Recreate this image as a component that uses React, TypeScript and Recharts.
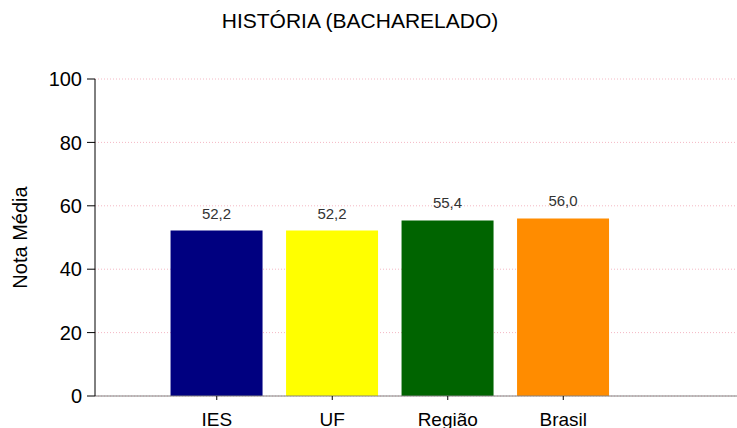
import { BarChart, Bar, XAxis, YAxis, CartesianGrid, Cell, LabelList, Label } from 'recharts'

const categories = ['IES', 'UF', 'Região', 'Brasil']
const notas = [52.2, 52.2, 55.4, 56.0]
const barColors = ['#000080', '#ffff00', '#006400', '#ff8c00']
const yTicks = [0, 20, 40, 60, 80, 100]

const data = categories.map((name, i) => ({ name, nota: notas[i] }))

const FONT = '"Liberation Sans", Arial, sans-serif'

// decimal comma, as in the original
function formatNota(value: number): string {
  return Number(value).toFixed(1).replace('.', ',')
}

export default function App() {
  return (
    <div style={{ position: 'fixed', top: 0, left: 0, width: 737, height: 428, background: '#fff', fontFamily: FONT }}>
      <div
        style={{
          position: 'absolute',
          top: 9,
          left: 0,
          width: 720,
          textAlign: 'center',
          fontSize: 21,
          color: '#000',
        }}
      >
        HISTÓRIA (BACHARELADO)
      </div>
      <BarChart
        width={737}
        height={428}
        data={data}
        margin={{ top: 79, right: 0, left: 0, bottom: 0 }}
        barCategoryGap="10%"
        style={{ overflow: 'visible' }}
      >
        <CartesianGrid vertical={false} stroke="#f4b8c4" strokeDasharray="1 2" />
        <XAxis
          dataKey="name"
          height={32}
          padding={{ left: 64, right: 116 }}
          tick={{ fill: '#000', fontSize: 19, fontFamily: FONT }}
          tickSize={4}
          tickMargin={13}
          axisLine={{ stroke: '#808080' }}
          tickLine={{ stroke: '#000' }}
          interval={0}
        />
        <YAxis
          width={95}
          domain={[0, 100]}
          ticks={yTicks}
          tick={{ fill: '#000', fontSize: 20, fontFamily: FONT }}
          tickSize={8}
          tickMargin={5}
          axisLine={{ stroke: '#000' }}
          tickLine={{ stroke: '#000' }}
        >
          <Label
            content={({ viewBox }: any) => {
              const cy = viewBox.y + viewBox.height / 2
              return (
                <text
                  x={27}
                  y={cy}
                  transform={`rotate(-90 27 ${cy})`}
                  textAnchor="middle"
                  fontSize={20}
                  fontFamily={FONT}
                  fill="#000"
                >
                  Nota Média
                </text>
              )
            }}
          />
        </YAxis>
        <Bar dataKey="nota" isAnimationActive={false}>
          {data.map((d, i) => (
            <Cell key={d.name} fill={barColors[i]} />
          ))}
          <LabelList
            dataKey="nota"
            position="top"
            offset={12}
            fill="#333"
            fontSize={15}
            fontFamily={FONT}
            formatter={(v: any) => formatNota(v)}
          />
        </Bar>
      </BarChart>
    </div>
  )
}
